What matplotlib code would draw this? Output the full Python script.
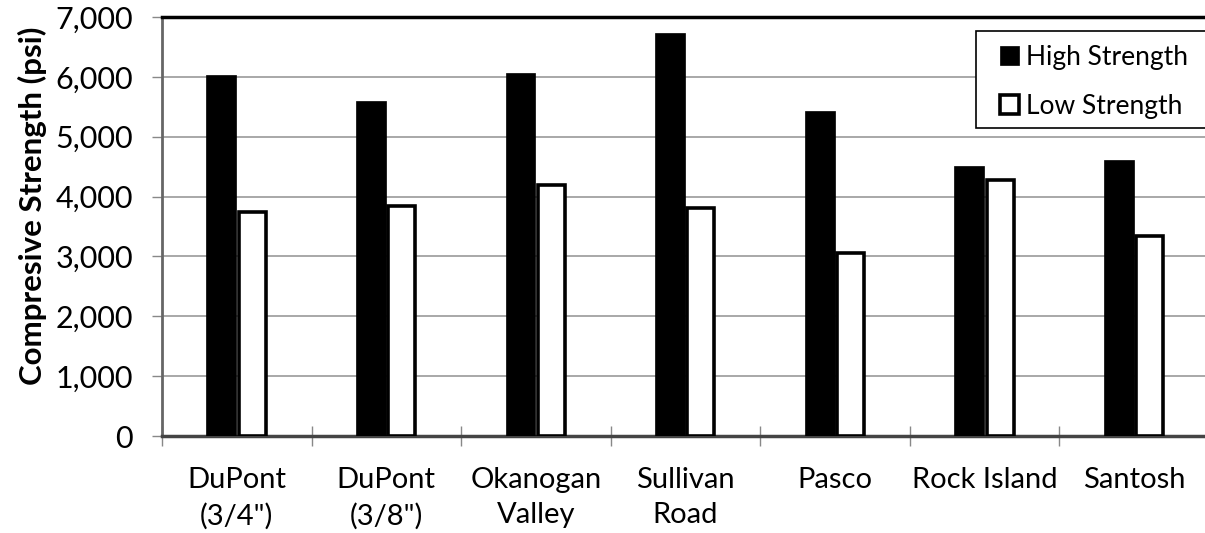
"""
Compressive strength by aggregate source — high vs low strength mixes
"""
import matplotlib
matplotlib.use("Agg")
import matplotlib.pyplot as plt
from matplotlib.patches import Rectangle
import numpy as np

# --- data ---
sources = ["DuPont\n(3/4\")", "DuPont\n(3/8\")", "Okanogan\nValley", "Sullivan\nRoad",
           "Pasco", "Rock Island", "Santosh"]
high_strength = [6030, 5600, 6060, 6730, 5430, 4510, 4610]
low_strength = [3740, 3840, 4190, 3810, 3060, 4270, 3340]
y_ticks = [0, 1000, 2000, 3000, 4000, 5000, 6000, 7000]

W, H = 1205, 533


def main():
    plt.rcParams["font.family"] = ["Lato", "DejaVu Sans"]

    fig = plt.figure(figsize=(W / 100, H / 100), dpi=100)
    ax = fig.add_axes([162 / W, 1 - 436 / H, 1047 / W, 419 / H])

    x = np.arange(len(sources))
    bw = 0.2
    ax.bar(x - 0.103, high_strength, bw, color="black", edgecolor="black",
           linewidth=0.5, label="High Strength", zorder=3)
    ax.bar(x + 0.103, low_strength, bw - 0.02, color="white", edgecolor="black",
           linewidth=2.6, label="Low Strength", zorder=3)

    ax.set_xlim(-0.5, len(sources) - 0.5)
    ax.set_ylim(0, 7000)

    # y axis
    ax.set_yticks(y_ticks)
    ax.set_yticklabels([f"{v:,}" for v in y_ticks], fontsize=22)
    ax.tick_params(axis="y", direction="out", length=7, width=1, color="#888888", pad=14)
    ax.grid(axis="y", color="#999999", linewidth=1.2, zorder=0)
    ax.set_ylabel("Compresive Strength (psi)", fontsize=22.5, fontweight="bold")
    ax.yaxis.set_label_coords(-0.11, 0.55)

    # x axis: tick marks on category borders, labels at centers
    ax.set_xticks(np.arange(len(sources) + 1) - 0.5)
    ax.set_xticklabels([])
    ax.tick_params(axis="x", which="major", direction="inout", length=15, width=1,
                   color="#888888")
    ax.set_xticks(x, minor=True)
    ax.set_xticklabels(sources, minor=True, fontsize=21, linespacing=1.45)
    ax.tick_params(axis="x", which="minor", length=0, pad=22)

    # spines
    ax.spines["top"].set_linewidth(2.5)
    ax.spines["top"].set_color("black")
    ax.spines["right"].set_visible(False)
    ax.spines["bottom"].set_linewidth(2.5)
    ax.spines["bottom"].set_color("#444444")
    ax.spines["left"].set_linewidth(2)
    ax.spines["left"].set_color("#666666")

    # legend box runs off the right edge, like the original
    ax.add_patch(Rectangle((976 / W, 1 - 128 / H), 260 / W, 97 / H,
                           transform=fig.transFigure, facecolor="white",
                           edgecolor="black", linewidth=1.2, zorder=5, clip_on=False))
    leg = ax.legend(loc="upper left", bbox_to_anchor=(1000 / W, 1 - 45 / H),
                    bbox_transform=fig.transFigure, fontsize=19, frameon=False,
                    borderpad=0, handlelength=0.72, handleheight=0.72,
                    handletextpad=0.25, labelspacing=0.9, borderaxespad=0)
    leg.set_zorder(6)
    leg.legend_handles[1].set_linewidth(2.6)

    fig.savefig("out.png", dpi=100)
    plt.close(fig)


if __name__ == "__main__":
    main()
